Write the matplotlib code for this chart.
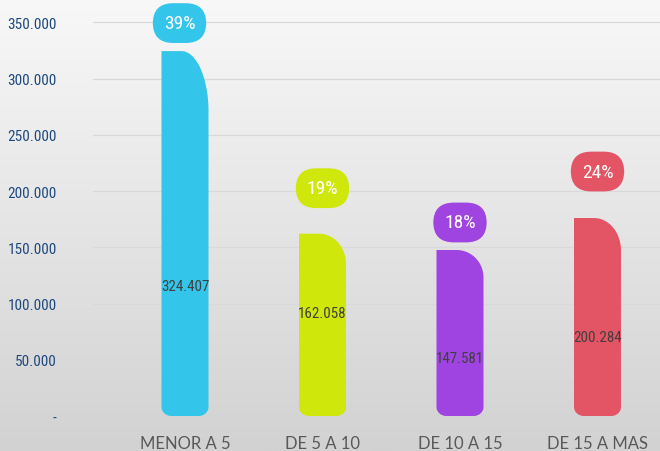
import numpy as np
import matplotlib
matplotlib.use("Agg")
import matplotlib.pyplot as plt
from matplotlib.path import Path
from matplotlib.patches import PathPatch
from matplotlib.ticker import FixedLocator

# ---- data ----
categories = ["MENOR A 5", "DE 5 A 10", "DE 10 A 15", "DE 15 A MAS"]
values = [324407, 162058, 147581, 200284]
value_labels = ["324.407", "162.058", "147.581", "200.284"]
bar_heights = [324407, 162058, 147581, 176000]   # heights as drawn in the picture
percent_labels = ["39%", "19%", "18%", "24%"]
yticks = [0, 50000, 100000, 150000, 200000, 250000, 300000, 350000]
ytick_labels = ["-", "50.000", "100.000", "150.000", "200.000", "250.000", "300.000", "350.000"]

# ---- style / layout ----
colors = ["#33C6EA", "#CFE70B", "#A044E1", "#E35464"]
value_label_y = [116000, 92000, 52000, 70500]
pct_offset_px = [(-5.5, 28), (0, 45.5), (0, 27.5), (0, 46.5)]
NARROW = ["Liberation Sans Narrow", "Roboto Condensed", "Lato", "DejaVu Sans"]

W, H = 660, 452
fig = plt.figure(figsize=(W / 100, H / 100), dpi=100)

# background gradient
bg = fig.add_axes([0, 0, 1, 1], zorder=0)
grad = np.linspace(0, 1, 256).reshape(-1, 1)
top_c = np.array([248, 248, 248]) / 255
bot_c = np.array([210, 210, 210]) / 255
img = top_c[None, None, :] * (1 - grad[:, :, None]) + bot_c[None, None, :] * grad[:, :, None]
bg.imshow(img, aspect="auto", extent=[0, 1, 0, 1], origin="upper")
bg.axis("off")

zero_px = 417
ax = fig.add_axes([93 / W, (H - zero_px) / H, 1 - 93 / W, zero_px / H], zorder=1)
ax.patch.set_alpha(0)
step_px = 137.5
x_left = -(185 - 93) / step_px
x_right = 3 + (660 - 597.5) / step_px
ax.set_xlim(x_left, x_right)
px_per_unit_y = (zero_px - 23.3) / 350000
ax.set_ylim(0, zero_px / px_per_unit_y)

for s in ax.spines.values():
    s.set_visible(False)

ax.yaxis.set_major_locator(FixedLocator(yticks))
ax.set_yticklabels(ytick_labels)
ax.grid(axis="y", color="#d9d9d9", linewidth=0.9)
ax.set_axisbelow(True)
gl = ax.get_ygridlines()
gl[0].set_visible(False)
ax.tick_params(axis="y", length=0, pad=26, labelcolor="#1F497D", labelsize=11)
for t in ax.get_yticklabels():
    t.set_fontfamily(NARROW)
    t.set_verticalalignment("center_baseline")

x = np.arange(len(categories))
ax.set_xticks(x)
ax.set_xticklabels(categories)
ax.tick_params(axis="x", length=0, pad=14, labelcolor="#595959", labelsize=12)
for t in ax.get_xticklabels():
    t.set_fontfamily(["Lato", "DejaVu Sans"])

bar_w = 47 / step_px
rx_top = 27 / step_px
rbx = 10 / step_px
rby = 9 / px_per_unit_y


def arc(cx, cy, rx, ry, a0, a1, n=30):
    t = np.linspace(np.radians(a0), np.radians(a1), n)
    return list(zip(cx + rx * np.cos(t), cy + ry * np.sin(t)))


for i, (h, c) in enumerate(zip(bar_heights, colors)):
    x0, x1 = i - bar_w / 2, i + bar_w / 2
    ry_top = 0.165 * h
    pts = [(x0, rby), (x0, h), (x1 - rx_top, h)]
    pts += arc(x1 - rx_top, h - ry_top, rx_top, ry_top, 90, 0)
    pts += [(x1, rby)]
    pts += arc(x1 - rbx, rby, rbx, rby, 0, -90)
    pts += [(x0 + rbx, 0)]
    pts += arc(x0 + rbx, rby, rbx, rby, -90, -180)
    pts += [(x0, rby)]
    codes = [Path.MOVETO] + [Path.LINETO] * (len(pts) - 2) + [Path.CLOSEPOLY]
    ax.add_patch(PathPatch(Path(pts, codes), facecolor=c, edgecolor="none", zorder=2))

    ax.text(i, value_label_y[i], value_labels[i], ha="center", va="center",
            fontsize=10.8, color="#404040", zorder=3, family=NARROW)

    dx, dy = pct_offset_px[i]
    ax.annotate(percent_labels[i], xy=(i, h), xytext=(dx * 0.72, dy * 0.72),
                textcoords="offset points", ha="center", va="center",
                fontsize=14, color="white", zorder=4, annotation_clip=False,
                family=NARROW,
                bbox=dict(boxstyle="round,pad=0.56,rounding_size=1.05",
                          facecolor=c, edgecolor="none"))

fig.savefig("out.png", dpi=100)
